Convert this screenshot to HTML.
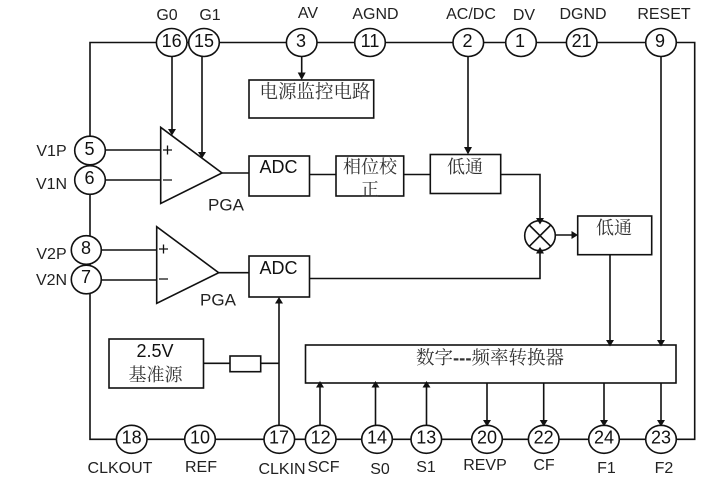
<!DOCTYPE html>
<html><head><meta charset="utf-8"><style>
html,body{margin:0;padding:0;background:#fff}
svg{display:block}
text{font-family:"Liberation Sans",sans-serif;fill:#222}
.n{font-size:18px;text-anchor:middle;fill:#111}
.l{font-size:16px;text-anchor:middle}
.c{font-family:"Noto Serif CJK SC","Liberation Serif",serif;font-size:18px;text-anchor:middle;fill:#333}
.a{font-size:18px;text-anchor:middle;fill:#111}
</style></head><body>
<svg width="717" height="481" viewBox="0 0 717 481" xmlns="http://www.w3.org/2000/svg">
<g fill="none" stroke="#111" stroke-width="1.6">
<path d="M90 150V42.500H694.700V439.300H90V165M90 195V265"/>
<!-- input lines -->
<path d="M105 150H161M105 180H161M101 250H157M101 280H157"/>
<!-- triangles -->
<path d="M160.700 127.300V203.500L222 173Z" fill="#fff"/>
<path d="M156.700 226.700V303.300L218.700 272.700Z" fill="#fff"/>
<!-- amp to ADC -->
<path d="M222 173H249M218.700 272.700H249"/>
<!-- gain and others -->
<path d="M172 56V130M202 56V153M301.700 56V78M468 56V150M661 56V340M279 425V300M203.500 363.300H230M260.700 363.300H279"/>
<path d="M309.500 174.500H336M398 174.500H430.300M500.700 174.500H540V222M556 235H576M309.500 278.500H540V252"/>
<path d="M610 254.700V340M320 425V385M375.500 425V385M426.500 425V385M487 383V422M543.700 383V422M604 383V422M661 383V422"/>
<!-- boxes -->
<rect x="249" y="80" width="124.700" height="38" fill="#fff"/>
<rect x="249" y="156" width="60.500" height="40" fill="#fff"/>
<rect x="336" y="156" width="67.700" height="40" fill="#fff"/>
<rect x="430.300" y="154.500" width="70.400" height="39" fill="#fff"/>
<rect x="577.700" y="216" width="74" height="38.700" fill="#fff"/>
<rect x="249" y="256" width="60.500" height="41" fill="#fff"/>
<rect x="109" y="339" width="94.500" height="49" fill="#fff"/>
<rect x="230" y="356" width="30.700" height="15.700" fill="#fff"/>
<rect x="305.500" y="345" width="370.500" height="38" fill="#fff"/>
<!-- mixer -->
<ellipse cx="540" cy="235.700" rx="15.300" ry="15" fill="#fff"/>
<path d="M529.200 225L550.800 246.400M550.800 225L529.200 246.400"/>
<!-- pins -->
<g fill="#fff">
<ellipse cx="171.700" cy="42.500" rx="15.300" ry="14"/>
<ellipse cx="204" cy="42.500" rx="15.300" ry="14"/>
<ellipse cx="301.700" cy="42.500" rx="15.300" ry="14"/>
<ellipse cx="370" cy="42.500" rx="15.300" ry="14"/>
<ellipse cx="468.300" cy="42.500" rx="15.300" ry="14"/>
<ellipse cx="521" cy="42.500" rx="15.300" ry="14"/>
<ellipse cx="581.700" cy="42.500" rx="15.300" ry="14"/>
<ellipse cx="661" cy="42.500" rx="15.300" ry="14"/>
<ellipse cx="90" cy="150.500" rx="15.300" ry="14.300"/>
<ellipse cx="90" cy="180" rx="15.300" ry="14.300"/>
<ellipse cx="86.300" cy="250" rx="15" ry="14.300"/>
<ellipse cx="86.300" cy="279.500" rx="15" ry="14.300"/>
<ellipse cx="131.700" cy="439.300" rx="15.300" ry="14"/>
<ellipse cx="200" cy="439.300" rx="15.300" ry="14"/>
<ellipse cx="279.300" cy="439.300" rx="15.300" ry="14"/>
<ellipse cx="320.700" cy="439.300" rx="15.300" ry="14"/>
<ellipse cx="377" cy="439.300" rx="15.300" ry="14"/>
<ellipse cx="426.300" cy="439.300" rx="15.300" ry="14"/>
<ellipse cx="487" cy="439.300" rx="15.300" ry="14"/>
<ellipse cx="543.700" cy="439.300" rx="15.300" ry="14"/>
<ellipse cx="604" cy="439.300" rx="15.300" ry="14"/>
<ellipse cx="661" cy="439.300" rx="15.300" ry="14"/>
</g>
</g>
<!-- arrowheads -->
<g fill="#111">
<path d="M168 129h8l-4 6.500zM198 152h8l-4 6.500zM297.700 72.500h8l-4 7.500zM464 147h8l-4 7.500zM536 218h8l-4 6.500zM536 253.500h8l-4-6.500zM571.500 231l6.500 4-6.500 4zM275 303.500l4-6.500 4 6.500zM316 387.500l4-6.500 4 6.500zM371.500 387.500l4-6.500 4 6.500zM422.500 387.500l4-6.500 4 6.500zM483 420h8l-4 6.500zM539.700 420h8l-4 6.500zM600 420h8l-4 6.500zM657 420h8l-4 6.500zM606 340h8l-4 6.500zM657 340h8l-4 6.500z"/>
</g>
<!-- +/- -->
<path d="M163 150H172M167.500 145.500V154.500M163 180H172M159 249H168M163.500 244.500V253.500M159 279H168" stroke="#111" stroke-width="1.300"/>
<!-- numbers -->
<text class="n" x="171.700" y="47">16</text>
<text class="n" x="204" y="47">15</text>
<text class="n" x="301" y="47">3</text>
<text class="n" x="370" y="47">11</text>
<text class="n" x="467.500" y="47">2</text>
<text class="n" x="520" y="47">1</text>
<text class="n" x="581.700" y="47">21</text>
<text class="n" x="660" y="47">9</text>
<text class="n" x="89.500" y="155">5</text>
<text class="n" x="89.500" y="184">6</text>
<text class="n" x="86" y="254">8</text>
<text class="n" x="86" y="283">7</text>
<text class="n" x="131.700" y="443.500">18</text>
<text class="n" x="200" y="443.500">10</text>
<text class="n" x="279" y="443.500">17</text>
<text class="n" x="320.700" y="443.500">12</text>
<text class="n" x="377" y="443.500">14</text>
<text class="n" x="426.300" y="443.500">13</text>
<text class="n" x="487" y="443.500">20</text>
<text class="n" x="543.700" y="443.500">22</text>
<text class="n" x="604" y="443.500">24</text>
<text class="n" x="661" y="443.500">23</text>
<!-- labels -->
<text class="l" x="167" y="20">G0</text>
<text class="l" x="210" y="20">G1</text>
<text class="l" x="308" y="18">AV</text>
<text class="l" x="375.500" y="19">AGND</text>
<text class="l" x="471" y="19">AC/DC</text>
<text class="l" x="524" y="20">DV</text>
<text class="l" x="583" y="19">DGND</text>
<text class="l" x="664" y="19">RESET</text>
<text class="l" x="51.500" y="156">V1P</text>
<text class="l" x="51.500" y="189">V1N</text>
<text class="l" x="51.500" y="259">V2P</text>
<text class="l" x="51.500" y="285">V2N</text>
<text class="l" x="226" y="210.500" style="font-size:17px">PGA</text>
<text class="l" x="218" y="305.500" style="font-size:17px">PGA</text>
<text class="l" x="120" y="473">CLKOUT</text>
<text class="l" x="201" y="472">REF</text>
<text class="l" x="282" y="474">CLKIN</text>
<text class="l" x="323.500" y="472">SCF</text>
<text class="l" x="380" y="474">S0</text>
<text class="l" x="426" y="472">S1</text>
<text class="l" x="485" y="470">REVP</text>
<text class="l" x="544" y="470">CF</text>
<text class="l" x="606.500" y="473">F1</text>
<text class="l" x="664" y="473">F2</text>
<text class="a" x="278.500" y="173">ADC</text>
<text class="a" x="278.500" y="274">ADC</text>
<text class="a" x="155" y="357">2.5V</text>
<!-- CJK -->
<text class="c" x="315" y="98" style="font-size:18.500px">电源监控电路</text>
<text class="c" x="370" y="173">相位校</text>
<text class="c" x="370" y="196">正</text>
<text class="c" x="465" y="173">低通</text>
<text class="c" x="614" y="234">低通</text>
<text class="c" x="155.500" y="381">基准源</text>
<text class="c" x="490" y="364" style="font-size:18.500px">数字<tspan style="font-family:'Liberation Sans',sans-serif;font-weight:bold">---</tspan>频率转换器</text>
</svg>
</body></html>
